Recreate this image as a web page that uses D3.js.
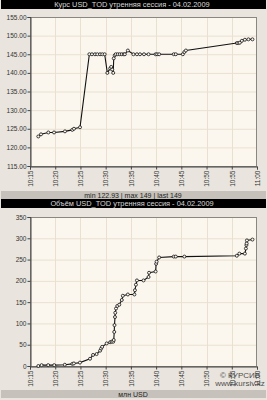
<!DOCTYPE html>
<html>
<head>
<meta charset="utf-8">
<script src="https://cdn.jsdelivr.net/npm/d3@7"></script>
<style>
  html, body { margin: 0; padding: 0; background: #e9e5de; }
  svg { display: block; font-family: "Liberation Sans", sans-serif; }
</style>
</head>
<body>
<div id="chart"></div>
<script>
// Price chart (trade times and rates)
const priceTimes = ["10:16:39","10:17:11","10:18:38","10:19:46","10:21:56","10:23:23","10:23:43","10:24:55",
  "10:26:46","10:27:17","10:27:53","10:28:21","10:28:53","10:29:20","10:29:48",
  "10:30:20","10:30:54","10:31:06","10:31:18","10:31:30","10:31:36","10:31:48",
  "10:32:00","10:32:24","10:32:48","10:33:12","10:33:36","10:33:48","10:34:24",
  "10:35:30","10:36:12","10:36:48","10:37:36","10:38:30","10:39:54","10:40:12","10:40:36",
  "10:43:30","10:43:54","10:45:18","10:45:36","10:45:54",
  "10:56:00","10:56:18","10:56:36","10:57:00","10:57:36","10:58:18","10:59:06"];
const priceValues = [122.93,123.5,124.0,124.0,124.3,124.7,125.0,125.4,
  145,145,145,145,145,145,145,
  140,141.2,141.6,140.9,140.0,143.9,144.7,
  145,145,145,145,145,145,146,
  145,145,145,145,145,145,145,145,
  145,145,145,145.6,146,
  148,148,148.1,148.6,148.9,149,149];
const priceTicks = [115,120,125,130,135,140,145,150,155];

// Volume chart (cumulative, mln USD)
const volTimes = ["10:16:39","10:17:18","10:18:36","10:19:48","10:21:54","10:23:24","10:23:42","10:24:54",
  "10:26:54","10:27:30","10:28:12","10:28:54","10:29:06","10:29:18","10:30:12","10:30:54",
  "10:31:12","10:31:30","10:31:36","10:31:42","10:31:45","10:31:51","10:31:54","10:32:03",
  "10:32:18","10:32:42","10:33:12","10:33:24","10:34:24","10:35:42","10:35:48","10:36:00",
  "10:36:12","10:37:30","10:38:30","10:38:36","10:39:54","10:40:00","10:40:06","10:40:36",
  "10:43:30","10:43:54","10:45:36","10:56:00","10:56:30","10:57:36","10:57:48","10:57:54",
  "10:57:57","10:58:00","10:59:06"];
const volValues = [0,2,2,2,3,5,6,8,
  17,26,28,36,41,45,53,56,
  57,57,61,80,96,115,125,135,
  141,144,155,165,168,168,178,191,
  201,201,209,219,222,240,245,255,
  257,257,257,259,264,264,276,284,
  288,295,297];
const volTicks = [0,50,100,150,200,250,300,350];

const timeTicks = ["10:15","10:20","10:25","10:30","10:35","10:40","10:45","10:50","10:55","11:00"];

const priceTitle = "Курс USD_TOD утренняя сессия - 04.02.2009";
const priceFooter = "min 122.93 | max 149 | last 149";
const volTitle = "Объём USD_TOD утренняя сессия - 04.02.2009";
const volFooter = "млн USD";

const width = 267, height = 400;
const parseTime = d3.timeParse("%H:%M:%S");
const parseTick = d3.timeParse("%H:%M");

const svg = d3.select("#chart").append("svg")
  .attr("width", width)
  .attr("height", height);

svg.append("rect").attr("width", width).attr("height", height).attr("fill", "#e9e5de");

function drawPanel(opts) {
  const g = svg.append("g");
  const left = 30, right = 257;

  // title bar
  g.append("rect").attr("x", 1).attr("y", opts.titleY).attr("width", 265).attr("height", 9).attr("fill", "#000");
  g.append("text").attr("x", 132).attr("y", opts.titleY + 7.2)
    .attr("text-anchor", "middle").attr("font-size", 7.4).attr("fill", "#d8d8d8")
    .text(opts.title);

  const x = d3.scaleTime()
    .domain([parseTick("10:15"), parseTick("11:00")])
    .range([left, right]);
  const y = d3.scaleLinear().domain(opts.domain).range([opts.bottom, opts.top]);

  // plot background
  g.append("rect").attr("x", left).attr("y", opts.top)
    .attr("width", right - left).attr("height", opts.bottom - opts.top)
    .attr("fill", "#fbf7ef");

  // grid
  g.append("g").selectAll("line").data(opts.ticks.slice(1, -1)).join("line")
    .attr("x1", left).attr("x2", right)
    .attr("y1", d => y(d) + 0.5).attr("y2", d => y(d) + 0.5)
    .attr("stroke", "#e9e0d0").attr("stroke-width", 1);
  g.append("g").selectAll("line").data(timeTicks.slice(1, -1)).join("line")
    .attr("y1", opts.top).attr("y2", opts.bottom)
    .attr("x1", d => Math.round(x(parseTick(d))) + 0.5).attr("x2", d => Math.round(x(parseTick(d))) + 0.5)
    .attr("stroke", "#e9e0d0").attr("stroke-width", 1);

  // frame
  g.append("rect").attr("x", left + 0.5).attr("y", opts.top + 0.5)
    .attr("width", right - left - 1).attr("height", opts.bottom - opts.top)
    .attr("fill", "none").attr("stroke", "#8a8680");

  // axes
  const yAxis = g.append("g")
    .attr("transform", `translate(${left + 0.5},0)`)
    .call(d3.axisLeft(y).tickValues(opts.ticks).tickSize(3).tickFormat(opts.fmt));
  const xAxis = g.append("g")
    .attr("transform", `translate(0,${opts.bottom + 0.5})`)
    .call(d3.axisBottom(x).tickValues(timeTicks.map(parseTick)).tickSize(3).tickFormat(d3.timeFormat("%H:%M")));
  [yAxis, xAxis].forEach(a => {
    a.select(".domain").attr("stroke", "#444");
    a.selectAll(".tick line").attr("stroke", "#444");
    a.selectAll("text").attr("fill", "#333").attr("font-size", 6.5).attr("font-family", "Liberation Sans, sans-serif");
  });
  yAxis.selectAll("text").attr("x", -4);
  xAxis.selectAll("text")
    .attr("transform", "rotate(-90)")
    .attr("text-anchor", "end")
    .attr("x", -4).attr("y", 0).attr("dy", "0.35em");

  // series line + markers
  const pts = opts.times.map((t, i) => ({ t: parseTime(t), v: opts.values[i] }));
  const line = d3.line().x(d => x(d.t)).y(d => y(d.v));
  g.append("path").datum(pts)
    .attr("fill", "none").attr("stroke", "#111").attr("stroke-width", 1.1)
    .attr("d", line);
  g.append("g").selectAll("circle").data(pts).join("circle")
    .attr("cx", d => x(d.t)).attr("cy", d => y(d.v)).attr("r", 1.5)
    .attr("fill", "#fbf7ef").attr("stroke", "#111").attr("stroke-width", 0.8);

  // footer bar
  g.append("rect").attr("x", 1).attr("y", opts.footerY).attr("width", 265).attr("height", 8).attr("fill", "#c6c2bb");
  g.append("text").attr("x", 133).attr("y", opts.footerY + 6.5)
    .attr("text-anchor", "middle").attr("font-size", 7).attr("fill", "#222")
    .text(opts.footer);
  return g;
}

drawPanel({
  titleY: 0, top: 17, bottom: 166, footerY: 191,
  domain: [115, 155], ticks: priceTicks, fmt: d3.format(".2f"),
  times: priceTimes, values: priceValues,
  title: priceTitle, footer: priceFooter
});

drawPanel({
  titleY: 199, top: 217, bottom: 366, footerY: 390,
  domain: [0, 350], ticks: volTicks, fmt: d3.format("d"),
  times: volTimes, values: volValues,
  title: volTitle, footer: volFooter
});

// watermark
svg.append("text").attr("x", 240).attr("y", 378).attr("text-anchor", "middle")
  .attr("font-size", 8).attr("fill", "#333").attr("opacity", 0.85).text("© КУРСИВ");
svg.append("text").attr("x", 240).attr("y", 386).attr("text-anchor", "middle")
  .attr("font-size", 8).attr("fill", "#333").attr("opacity", 0.85).text("www.kursiv.kz");
</script>
</body>
</html>
